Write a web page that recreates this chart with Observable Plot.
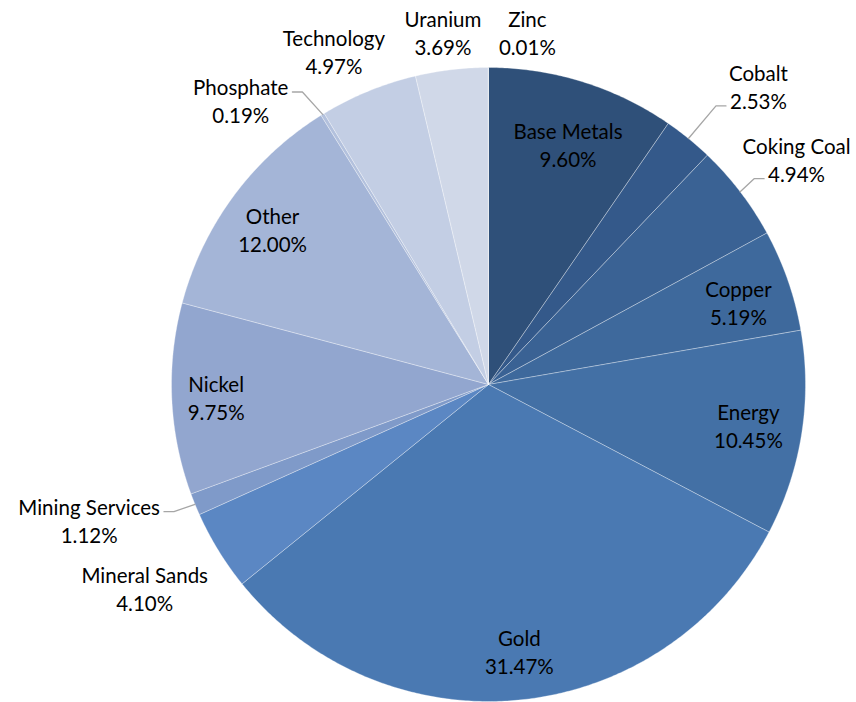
<!DOCTYPE html>
<html><head><meta charset="utf-8">
<script src="https://cdn.jsdelivr.net/npm/d3@7"></script>
<script src="https://cdn.jsdelivr.net/npm/@observablehq/plot@0.6"></script>
<style>body{margin:0;background:#fff}</style>
</head><body><div id="chart"></div>
<script>
// ---- data ----
const categories = ["Base Metals","Cobalt","Coking Coal","Copper","Energy","Gold","Mineral Sands","Mining Services","Nickel","Other","Phosphate","Technology","Uranium","Zinc"];
const shares = [9.60, 2.53, 4.94, 5.19, 10.45, 31.47, 4.10, 1.12, 9.75, 12.00, 0.19, 4.97, 3.69, 0.01];
const colors = ["#2f5079","#34598a","#3a6294","#3e699c","#4370a5","#4a79b2","#5b87c3","#7f9ac9","#92a6cf","#a4b5d7","#b3c1dd","#c3cee4","#d0d8e8","#d5dcea"];

// ---- layout (label placement relative to slice mid-angle) ----
const W = 856, H = 702, CX = 488, CY = 384, R = 317, FS = 20.5, LH = 1.37;
const labelLayout = {
  "Base Metals": {r: 0.80, da: 1},
  "Cobalt": {r: 1.27, da: 3, leader: 1},
  "Coking Coal": {r: 1.205, da: 1.2, leader: 1},
  "Copper": {r: 0.83, da: 1},
  "Energy": {r: 0.83, da: 0},
  "Gold": {r: 0.845, da: -1},
  "Mineral Sands": {r: 1.26, da: 1},
  "Mining Services": {r: 1.33, da: 3.5, leader: 0},
  "Nickel": {r: 0.86, da: 0},
  "Other": {r: 0.84, da: -0.7},
  "Phosphate": {r: 1.19, da: -9.5, leader: 0},
  "Technology": {r: 1.16, da: -2.6},
  "Uranium": {r: 1.12, da: -0.7},
  "Zinc": {r: 1.12, da: 6.3}
};

const arcs = d3.pie().sort(null).value(d => d)(shares);
const px = 1 / R; // one pixel in data units

// slice polygons
const slicePts = [];
arcs.forEach((a, i) => {
  const name = categories[i];
  slicePts.push({name, x: 0, y: 0});
  const n = Math.max(2, Math.ceil((a.endAngle - a.startAngle) / (Math.PI / 360)));
  for (let k = 0; k <= n; k++) {
    const t = a.startAngle + (a.endAngle - a.startAngle) * k / n;
    slicePts.push({name, x: Math.sin(t), y: Math.cos(t)});
  }
  slicePts.push({name, x: 0, y: 0});
});

// labels
const ctx = document.createElement("canvas").getContext("2d");
ctx.font = `${FS}px Lato`;
const labels = [], leaders = [];
arcs.forEach((a, i) => {
  const name = categories[i];
  const L = labelLayout[name];
  const mid = (a.startAngle + a.endAngle) / 2;
  const t = mid + L.da * Math.PI / 180;
  const lx = Math.sin(t) * L.r, ly = Math.cos(t) * L.r;
  const lines = [name, shares[i].toFixed(2) + "%"];
  labels.push({name, x: lx, y: ly, text: lines.join("\n")});
  if (L.leader !== undefined) {
    const sx = Math.sin(mid), sy = Math.cos(mid);
    const side = lx > sx ? 1 : -1;
    const halfW = ctx.measureText(lines[L.leader]).width / 2 * px;
    const lineCenter = ly + (L.leader === 0 ? 1 : -1) * (FS * LH / 2) * px;
    const yl = lineCenter - 6 * px;
    const ex = lx - side * (halfW + 4 * px);
    const bx = ex - side * 10 * px;
    leaders.push({name, x: sx, y: sy}, {name, x: bx, y: yl}, {name, x: ex, y: yl});
  }
});

const chart = Plot.plot({
  width: W, height: H,
  margin: 0,
  x: {domain: [-CX / R, (W - CX) / R], axis: null},
  y: {domain: [-(H - CY) / R, CY / R], axis: null},
  color: {type: "ordinal", domain: categories, range: colors},
  style: {fontFamily: "Lato", background: "#fff"},
  marks: [
    Plot.line(slicePts, {x: "x", y: "y", z: "name", fill: "name", stroke: "#ffffff", strokeWidth: 0.8, strokeOpacity: 0.4, curve: "linear"}),
    Plot.line(leaders, {x: "x", y: "y", z: "name", stroke: "#a6a6a6", strokeWidth: 1.3, curve: "linear"}),
    Plot.text(labels, {x: "x", y: "y", text: "text", fontSize: FS, lineHeight: LH, fill: "#000000", fontFamily: "Lato"})
  ]
});
document.getElementById("chart").appendChild(chart);
</script>
</body></html>
